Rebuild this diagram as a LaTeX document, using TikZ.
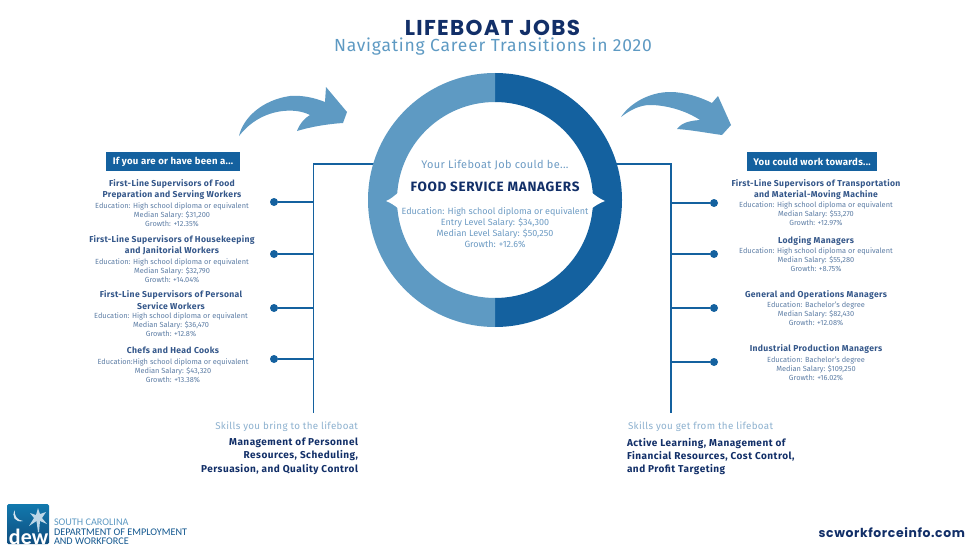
\documentclass[tikz,border=0pt]{standalone}
\usepackage{fontspec}
\setmainfont{Fira Sans}
\newfontfamily\titlefont{Poppins}
\newfontfamily\logofont{Carlito}
\usetikzlibrary{calc}
\definecolor{navy}{HTML}{122F68}
\definecolor{inkhead}{HTML}{34578A}
\definecolor{inkdet}{HTML}{5F7FA6}
\definecolor{ringlight}{HTML}{5E9AC3}
\definecolor{ringdark}{HTML}{14619F}
\definecolor{skilllight}{HTML}{8DB1CF}
\definecolor{centerdet}{HTML}{6E9CC4}
\newcommand{\lsp}[1]{\addfontfeature{LetterSpace=#1}}
\tikzset{
  txt/.style={inner sep=0pt,outer sep=0pt},
  jobhead/.style={txt,align=center,anchor=north,text=inkhead,yshift=-2pt,font=\fontsize{8.6}{11.3}\selectfont\bfseries\lsp{4}},
  jobdet/.style={txt,align=center,anchor=north,text=inkdet,yshift=-1.5pt,font=\fontsize{7.4}{9.2}\selectfont},
  hdrbox/.style={txt,fill=ringdark,text=white,font=\fontsize{9.6}{11}\selectfont\bfseries\lsp{3},minimum height=19pt,anchor=center},
  dot/.style={circle,fill=ringdark,minimum size=8pt,inner sep=0pt,outer sep=0pt},
  wire/.style={draw=ringdark,line width=1.5pt},
  skillhd/.style={txt,text=skilllight,font=\fontsize{9.8}{11}\selectfont\lsp{3.4}},
  skillbd/.style={txt,text=navy,align=#1,font=\fontsize{10}{13.3}\selectfont\bfseries\lsp{5}},
}
\newcommand{\jobitem}[6]{%
  \node[jobhead] (#1h) at (#2,#3) {#4};
  \node[jobdet] (#1d) at (#2,#5) {#6};
}
\begin{document}
\begin{tikzpicture}[x=1pt,y=-1pt]
\useasboundingbox (0,0) rectangle (980,551);
\fill[white] (0,0) rectangle (980,551);
% titles
\node[txt,text=navy,font=\titlefont\fontsize{21.5}{24}\selectfont\bfseries\lsp{6}] (title) at (492.5,28) {LIFEBOAT JOBS};
\node[txt,text=ringlight,font=\fontsize{17.5}{19}\selectfont\lsp{4.5}] (subtitle) at (493,47) {Navigating Career Transitions in 2020};
% named anchors of the wiring
\node[circle,minimum size=254pt,inner sep=0pt] (ring) at (495,200) {};
\coordinate (ltop) at (313.5,164);
\coordinate (lbot) at (313.5,413);
\coordinate (rtop) at (671,164);
\coordinate (rbot) at (671,413);
\node[dot] (l1) at (274,202) {};
\node[dot] (l2) at (274,254) {};
\node[dot] (l3) at (274,308) {};
\node[dot] (l4) at (274,359) {};
\node[dot] (r1) at (714,203) {};
\node[dot] (r2) at (714,254) {};
\node[dot] (r3) at (714,308) {};
\node[dot] (r4) at (714,362) {};
\draw[wire] ($(ring.west |- ltop)+(15,0)$) -- (ltop) -- (lbot);
\draw[wire] ($(ring.east |- rtop)+(-15,0)$) -- (rtop) -- (rbot);
\foreach \n in {l1,l2,l3,l4}{\draw[wire] (\n) -- (\n -| ltop);}
\foreach \n in {r1,r2,r3,r4}{\draw[wire] (\n) -- (\n -| rtop);}
% ring
\fill[ringdark] (495,73) arc[start angle=90,end angle=-90,radius=127pt] -- (495,298) arc[start angle=-90,end angle=90,radius=98pt] -- cycle;
\fill[ringlight] (495,73) arc[start angle=90,end angle=270,radius=127pt] -- (495,298) arc[start angle=270,end angle=90,radius=98pt] -- cycle;
% notches
\fill[white] (399,192) .. controls (394,196) and (391,199) .. (386,201) .. controls (391,203) and (394,205) .. (399,209) -- cycle;
\fill[white] (591,192) .. controls (596,196) and (600,199) .. (605,201) .. controls (600,203) and (596,205) .. (591,209) -- cycle;
% centre text
\node[txt,text=centerdet,font=\fontsize{11}{12}\selectfont\lsp{3}] (lead) at (495,164.5) {Your Lifeboat Job could be...};
\node[txt,text=navy,font=\fontsize{13.5}{15}\selectfont\bfseries\lsp{5}] (job) at (495,187) {FOOD SERVICE MANAGERS};
\node[txt,align=center,anchor=north,text=centerdet,font=\fontsize{9}{11}\selectfont] (jobinfo) at (495,207) {Education: High school diploma or equivalent\\Entry Level Salary: \$34,300\\Median Level Salary: \$50,250\\Growth: +12.6\%};
% arrows
\fill[ringlight] (239,136) .. controls (243,118) and (262,100) .. (290,96) .. controls (303,95) and (315,98) .. (325,102) -- (326,87) -- (347,112) -- (343,123) .. controls (327,124) and (310,127) .. (297,131) .. controls (300,123) and (305,118) .. (310,115) .. controls (302,111) and (293,110) .. (283,111) .. controls (265,113) and (250,122) .. (239,136) -- cycle;
\fill[ringlight] (621,117) .. controls (630,103) and (650,92) .. (670,92) .. controls (685,92) and (700,97) .. (712,103) -- (718,96) -- (731,125) -- (722,135) .. controls (707,133) and (692,130) .. (677,129) .. controls (681,124) and (686,121) .. (700,120) .. controls (685,110) and (665,105) .. (650,105) .. controls (640,105) and (630,110) .. (621,117) -- cycle;
% header boxes
\node[hdrbox,minimum width=134pt] (lhdr) at (173,161.5) {If you are or have been a...};
\node[hdrbox,minimum width=130pt] (rhdr) at (812,161.5) {You could work towards...};
% left column
\jobitem{la}{172}{177.5}{First-Line Supervisors of Food\\Preparation and Serving Workers}{201}{Education: High school diploma or equivalent\\Median Salary: \$31,200\\Growth: +12.35\%}
\jobitem{lb}{172}{233.5}{First-Line Supervisors of Housekeeping\\and Janitorial Workers}{257}{Education: High school diploma or equivalent\\Median Salary: \$32,790\\Growth: +14.04\%}
\jobitem{lc}{171}{289}{First-Line Supervisors of Personal\\Service Workers}{311}{Education: High school diploma or equivalent\\Median Salary: \$36,470\\Growth: +12.8\%}
\jobitem{ld}{173}{345}{Chefs and Head Cooks}{357}{Education:High school diploma or equivalent\\Median Salary: \$43,320\\Growth: +13.38\%}
% right column
\jobitem{ra}{816}{177.5}{First-Line Supervisors of Transportation\\and Material-Moving Machine}{200}{Education: High school diploma or equivalent\\Median Salary: \$53,270\\Growth: +12.97\%}
\jobitem{rb}{816}{235}{Lodging Managers}{246}{Education: High school diploma or equivalent\\Median Salary: \$55,280\\Growth: +8.75\%}
\jobitem{rc}{816}{289}{General and Operations Managers}{300}{Education: Bachelor's degree\\Median Salary: \$82,430\\Growth: +12.08\%}
\jobitem{rd}{816}{343}{Industrial Production Managers}{355}{Education: Bachelor's degree\\Median Salary: \$109,250\\Growth: +16.02\%}
% skills
\node[skillhd,anchor=east] (lsk) at (358,426.5) {Skills you bring to the lifeboat};
\node[skillbd=right,anchor=north east] (lskb) at (358,438) {Management of Personnel\\Resources, Scheduling,\\Persuasion, and Quality Control};
\node[skillhd,anchor=west] (rsk) at (628,426.5) {Skills you get from the lifeboat};
\node[skillbd=left,anchor=north west] (rskb) at (627,438) {Active Learning, Management of\\Financial Resources, Cost Control,\\and Profit Targeting};
% footer
\node[txt,anchor=east,text=navy,font=\titlefont\fontsize{12.4}{13}\selectfont\bfseries\lsp{5}] (site) at (965,533) {scworkforceinfo.com};
% logo
\shade[top color=ringdark!85!cyan,bottom color=ringdark!80!black,rounded corners=1.5pt] (7,504) rectangle (49,544);
\fill[white!75!ringlight] (15,510) .. controls (11,516) and (15,523) .. (23,521) .. controls (17,520) and (14,516) .. (15,510) -- cycle;
\fill[white!60!ringlight] (38,532) -- (36.5,521) -- (29,526) -- (34,518) -- (30,513) -- (36,515) -- (38,508) -- (40,514) -- (46,512) -- (42,518) -- (47,524) -- (40,521) -- (39,532) -- cycle;
\node[txt,anchor=base west,text=white,font=\logofont\fontsize{22}{22}\selectfont\bfseries] (dew) at (9,544) {dew};
\node[txt,anchor=west,text=ringlight,font=\logofont\fontsize{10.2}{11}\selectfont] (lg1) at (54,522) {SOUTH CAROLINA};
\node[txt,anchor=west,text=ringdark!90!black,font=\logofont\fontsize{10.2}{11}\selectfont] (lg2) at (54,532) {DEPARTMENT OF EMPLOYMENT};
\node[txt,anchor=west,text=ringdark!90!black,font=\logofont\fontsize{10.2}{11}\selectfont] (lg3) at (54,541) {AND WORKFORCE};
\end{tikzpicture}
\end{document}
